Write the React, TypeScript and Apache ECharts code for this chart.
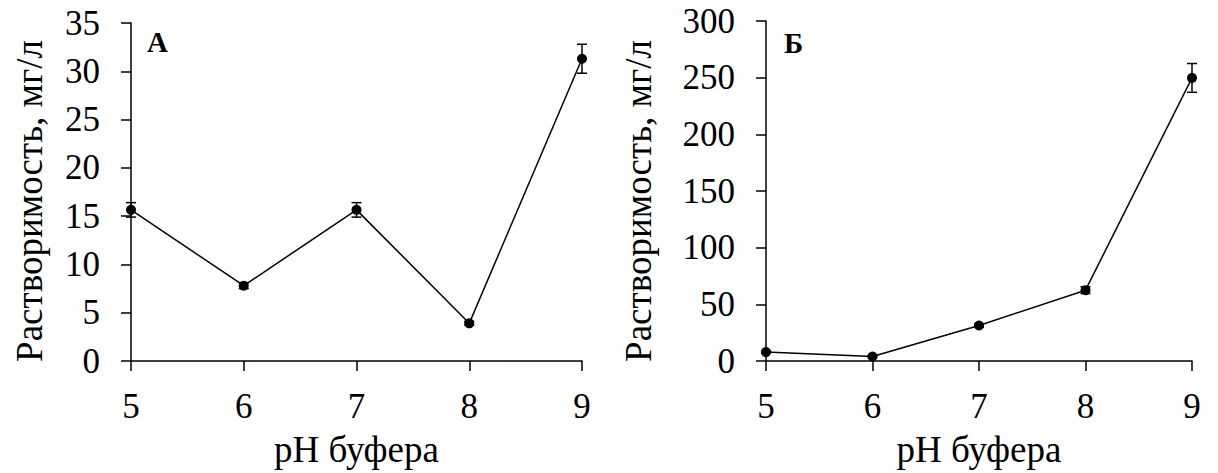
import React, { useEffect, useRef } from "react";
import * as echarts from "echarts";

const phValues = [5, 6, 7, 8, 9];
const solubilityA = [15.65, 7.8, 15.65, 3.9, 31.3];
const errorA = [0.75, 0.3, 0.75, 0.2, 1.5];
const solubilityB = [7.9, 4.0, 31.3, 62.5, 249.8];
const errorB = [1.0, 1.0, 1.5, 3.0, 12.7];
const yTicksA = { min: 0, max: 35, interval: 5 };
const yTicksB = { min: 0, max: 300, interval: 50 };
const panelLabels = ["А", "Б"];
const yTitle = "Растворимость, мг/л";
const xTitle = "pH буфера";

const FONT = "'Liberation Serif', 'Times New Roman', serif";
const TICK_FS = 35;
const TITLE_FS = 37;

function errorRender(params: any, api: any) {
  const x = api.value(0);
  const lo = api.coord([x, api.value(1)]);
  const hi = api.coord([x, api.value(2)]);
  const cap = 5;
  const style = { stroke: "#000", lineWidth: 1.5 };
  return {
    type: "group",
    children: [
      { type: "line", shape: { x1: lo[0], y1: lo[1], x2: hi[0], y2: hi[1] }, style },
      { type: "line", shape: { x1: lo[0] - cap, y1: lo[1], x2: lo[0] + cap, y2: lo[1] }, style },
      { type: "line", shape: { x1: hi[0] - cap, y1: hi[1], x2: hi[0] + cap, y2: hi[1] }, style },
    ],
  };
}

function makeAxisX(gridIndex: number) {
  return {
    type: "value",
    gridIndex,
    min: 5,
    max: 9,
    interval: 1,
    axisLine: { show: true, lineStyle: { color: "#000", width: 1.5 } },
    axisTick: { show: true, length: 10, lineStyle: { color: "#000", width: 1.5 } },
    axisLabel: { color: "#000", fontFamily: FONT, fontSize: TICK_FS, margin: 28 },
    splitLine: { show: false },
    name: xTitle,
    nameLocation: "middle",
    nameGap: 70,
    nameTextStyle: { color: "#000", fontFamily: FONT, fontSize: TITLE_FS },
  };
}

function makeAxisY(gridIndex: number, t: { min: number; max: number; interval: number }) {
  return {
    type: "value",
    gridIndex,
    min: t.min,
    max: t.max,
    interval: t.interval,
    axisLine: { show: true, lineStyle: { color: "#000", width: 1.5 } },
    axisTick: { show: true, length: 10, lineStyle: { color: "#000", width: 1.5 } },
    axisLabel: { color: "#000", fontFamily: FONT, fontSize: TICK_FS, margin: 31 },
    splitLine: { show: false },
  };
}

export default function App() {
  const ref = useRef<HTMLDivElement>(null);
  useEffect(() => {
    if (!ref.current) return;
    const chart = echarts.init(ref.current, null, { renderer: "svg" });
    const lineA = phValues.map((x, i) => [x, solubilityA[i]]);
    const lineB = phValues.map((x, i) => [x, solubilityB[i]]);
    const errA = phValues.map((x, i) => [x, solubilityA[i] - errorA[i], solubilityA[i] + errorA[i]]);
    const errB = phValues.map((x, i) => [x, solubilityB[i] - errorB[i], solubilityB[i] + errorB[i]]);
    chart.setOption({
      animation: false,
      backgroundColor: "#fff",
      grid: [
        { left: 131, width: 451, top: 23, height: 340 },
        { left: 766, width: 426, top: 21, height: 341 },
      ],
      xAxis: [makeAxisX(0), makeAxisX(1)],
      yAxis: [makeAxisY(0, yTicksA), makeAxisY(1, yTicksB)],
      graphic: [
        { type: "text", left: 147, top: 27, style: { text: panelLabels[0], font: `bold 29px ${FONT}`, fill: "#000" } },
        { type: "text", left: 784, top: 28, style: { text: panelLabels[1], font: `bold 29px ${FONT}`, fill: "#000" } },
        {
          type: "text", x: 29, y: 201, rotation: Math.PI / 2,
          style: { text: yTitle, font: `${TITLE_FS}px ${FONT}`, fill: "#000", align: "center", verticalAlign: "middle" },
        },
        {
          type: "text", x: 638, y: 201, rotation: Math.PI / 2,
          style: { text: yTitle, font: `${TITLE_FS}px ${FONT}`, fill: "#000", align: "center", verticalAlign: "middle" },
        },
      ],
      series: [
        {
          type: "line", xAxisIndex: 0, yAxisIndex: 0, data: lineA,
          symbol: "circle", symbolSize: 10, itemStyle: { color: "#000" },
          lineStyle: { color: "#000", width: 1.5 }, z: 3,
        },
        { type: "custom", xAxisIndex: 0, yAxisIndex: 0, data: errA, renderItem: errorRender, z: 4 },
        {
          type: "line", xAxisIndex: 1, yAxisIndex: 1, data: lineB,
          symbol: "circle", symbolSize: 10, itemStyle: { color: "#000" },
          lineStyle: { color: "#000", width: 1.5 }, z: 3,
        },
        { type: "custom", xAxisIndex: 1, yAxisIndex: 1, data: errB, renderItem: errorRender, z: 4 },
      ],
    });
    return () => chart.dispose();
  }, []);
  return (
    <div
      ref={ref}
      style={{ position: "absolute", left: 0, top: 0, width: 1218, height: 473 }}
    />
  );
}
